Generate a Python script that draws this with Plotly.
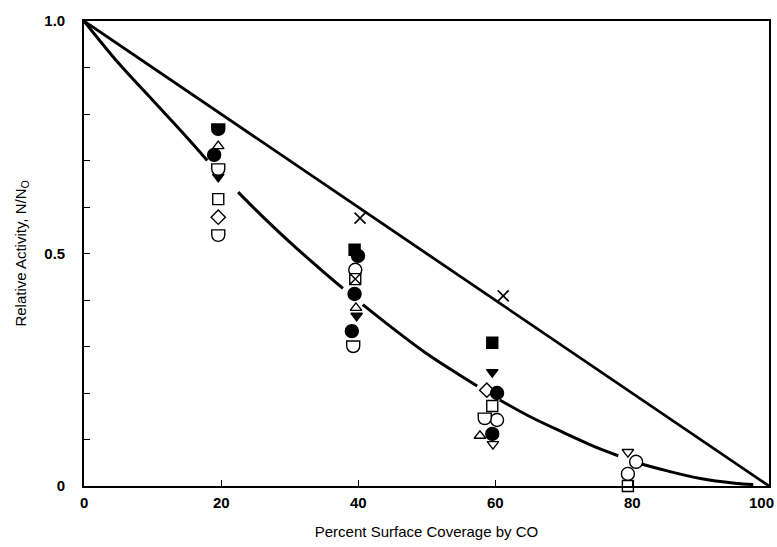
import plotly.graph_objects as go

# ---------------- data ----------------
# straight reference line (upper)
line_x = [0, 100]
line_y = [1.0, 0.0]

# fitted curve (lower), None = gaps where the curve is interrupted near markers
curve_x = [0, 5, 10, 15, 18, None, 22.5, 25, 30, 35, 37.8, None, 40.7, 45, 50, 55, 57.4, None,
           60.7, 65, 70, 75, 78, None, 81, 85, 90, 95, 97.7]
curve_y = [1.0, 0.91, 0.83, 0.75, 0.70, None, 0.632, 0.595, 0.525, 0.46, 0.425, None, 0.39, 0.34,
           0.285, 0.237, 0.215, None, 0.185, 0.15, 0.115, 0.082, 0.065, None, 0.049, 0.033, 0.016,
           0.006, 0.003]

x_marks_x = [40.3, 61.2]
x_marks_y = [0.576, 0.409]

filled_circle_x = [19.0, 40.0, 39.5, 39.1, 60.3, 59.6]
filled_circle_y = [0.712, 0.495, 0.413, 0.333, 0.200, 0.112]

open_circle_x = [39.6, 60.3, 80.6, 79.4]
open_circle_y = [0.465, 0.142, 0.052, 0.026]

filled_square_x = [39.5, 59.6]
filled_square_y = [0.508, 0.308]

open_square_x = [19.6, 59.6, 79.4]
open_square_y = [0.617, 0.172, 0.0]

boxed_x_x = [39.6]
boxed_x_y = [0.445]

open_diamond_x = [19.6, 58.8]
open_diamond_y = [0.578, 0.206]

open_tri_up_x = [19.6, 39.7, 57.8]
open_tri_up_y = [0.731, 0.383, 0.108]

filled_tri_down_x = [19.6, 39.8, 59.6]
filled_tri_down_y = [0.665, 0.366, 0.245]

open_tri_down_x = [59.7, 79.4]
open_tri_down_y = [0.090, 0.073]

filled_shield_x = [19.6]
filled_shield_y = [0.768]

open_shield_x = [19.6, 19.6, 39.3, 58.5]
open_shield_y = [0.682, 0.540, 0.301, 0.146]

x_tick_vals = [0, 20, 40, 60, 80, 100]
x_tick_text = ["0", "20", "40", "60", "80", "100"]
y_tick_vals = [0, 0.5, 1.0]
y_tick_text = ["0", "0.5", "1.0"]

# ---------------- figure ----------------
fig = go.Figure()

fig.add_trace(go.Scatter(x=line_x, y=line_y, mode="lines",
                         line=dict(color="black", width=2.8), showlegend=False))
fig.add_trace(go.Scatter(x=curve_x, y=curve_y, mode="lines", connectgaps=False,
                         line=dict(color="black", width=3, shape="spline"), showlegend=False))


def add_markers(xs, ys, symbol, size, filled, lw=1.4):
    fig.add_trace(go.Scatter(
        x=xs, y=ys, mode="markers", cliponaxis=False, showlegend=False,
        marker=dict(symbol=symbol, size=size,
                    color="black" if filled else "white",
                    line=dict(color="black", width=lw))))


add_markers(open_circle_x, open_circle_y, "circle", 13, False)
add_markers(open_square_x, open_square_y, "square", 11, False)
add_markers(boxed_x_x, boxed_x_y, "square-x", 11, False)
add_markers(open_diamond_x, open_diamond_y, "diamond", 11, False)
add_markers(open_tri_up_x, open_tri_up_y, "triangle-up", 10, False)
add_markers(open_tri_down_x, open_tri_down_y, "triangle-down", 10, False)
add_markers(filled_square_x, filled_square_y, "square", 11, True)
add_markers(filled_tri_down_x, filled_tri_down_y, "triangle-down", 10, True)
add_markers(filled_circle_x, filled_circle_y, "circle", 13, True)
add_markers(x_marks_x, x_marks_y, "x-thin", 11, False, lw=1.6)
fig.data[-1].marker.line.color = "black"

# shield markers (flat top, round bottom) drawn as pixel-sized paths anchored at data points
shield_path = "M -6.5,5 L 6.5,5 L 6.5,0 C 6.5,-8.6 -6.5,-8.6 -6.5,0 Z"
shapes = []
for xs, ys, filled in [(open_shield_x, open_shield_y, False), (filled_shield_x, filled_shield_y, True)]:
    for xv, yv in zip(xs, ys):
        shapes.append(dict(type="path", xref="x", yref="y", xsizemode="pixel", ysizemode="pixel",
                           xanchor=xv, yanchor=yv, path=shield_path,
                           fillcolor="black" if filled else "white",
                           line=dict(color="black", width=1.4), layer="above"))

tick_font = dict(family="Liberation Sans, Arial, sans-serif", size=15, color="black")
title_font = dict(family="Liberation Sans, Arial, sans-serif", size=15, color="black")

# x tick labels as annotations so the last one ("100") can sit inside the page edge
annotations = []
for v, t in zip(x_tick_vals, x_tick_text):
    last = v == x_tick_vals[-1]
    annotations.append(dict(x=v, y=0, xref="x", yref="paper", text="<b>%s</b>" % t,
                            showarrow=False, font=tick_font,
                            xanchor="right" if last else "center", xshift=7 if last else 0,
                            yanchor="top", yshift=-6))

fig.update_layout(
    width=777, height=547,
    margin=dict(l=84, r=8, t=21, b=61, autoexpand=False),
    paper_bgcolor="white", plot_bgcolor="white",
    shapes=shapes, annotations=annotations,
    xaxis=dict(range=[0, 100], tickvals=x_tick_vals, showticklabels=False,
               ticks="inside", ticklen=6, tickwidth=1.2, tickcolor="black",
               showline=True, linecolor="black", linewidth=1.6, mirror=True, automargin=False,
               showgrid=False, zeroline=False,
               title=dict(text="Percent Surface Coverage by CO", standoff=40, font=title_font)),
    yaxis=dict(range=[0, 1.0], tickvals=y_tick_vals,
               ticktext=["<b>%s</b>" % t for t in y_tick_text],
               ticks="inside", ticklen=6, tickwidth=1.2, tickcolor="black",
               minor=dict(dtick=0.1, tick0=0, ticks="inside", ticklen=6, tickwidth=1.2,
                          tickcolor="black", showgrid=False),
               showline=True, linecolor="black", linewidth=1.6, mirror=True, automargin=False,
               showgrid=False, zeroline=False, tickfont=tick_font, ticklabelstandoff=14,
               ticklabeloverflow="allow",
               title=dict(text="Relative Activity, N/N<sub>O</sub>", standoff=14, font=title_font)),
)

fig.write_html("out.html")
